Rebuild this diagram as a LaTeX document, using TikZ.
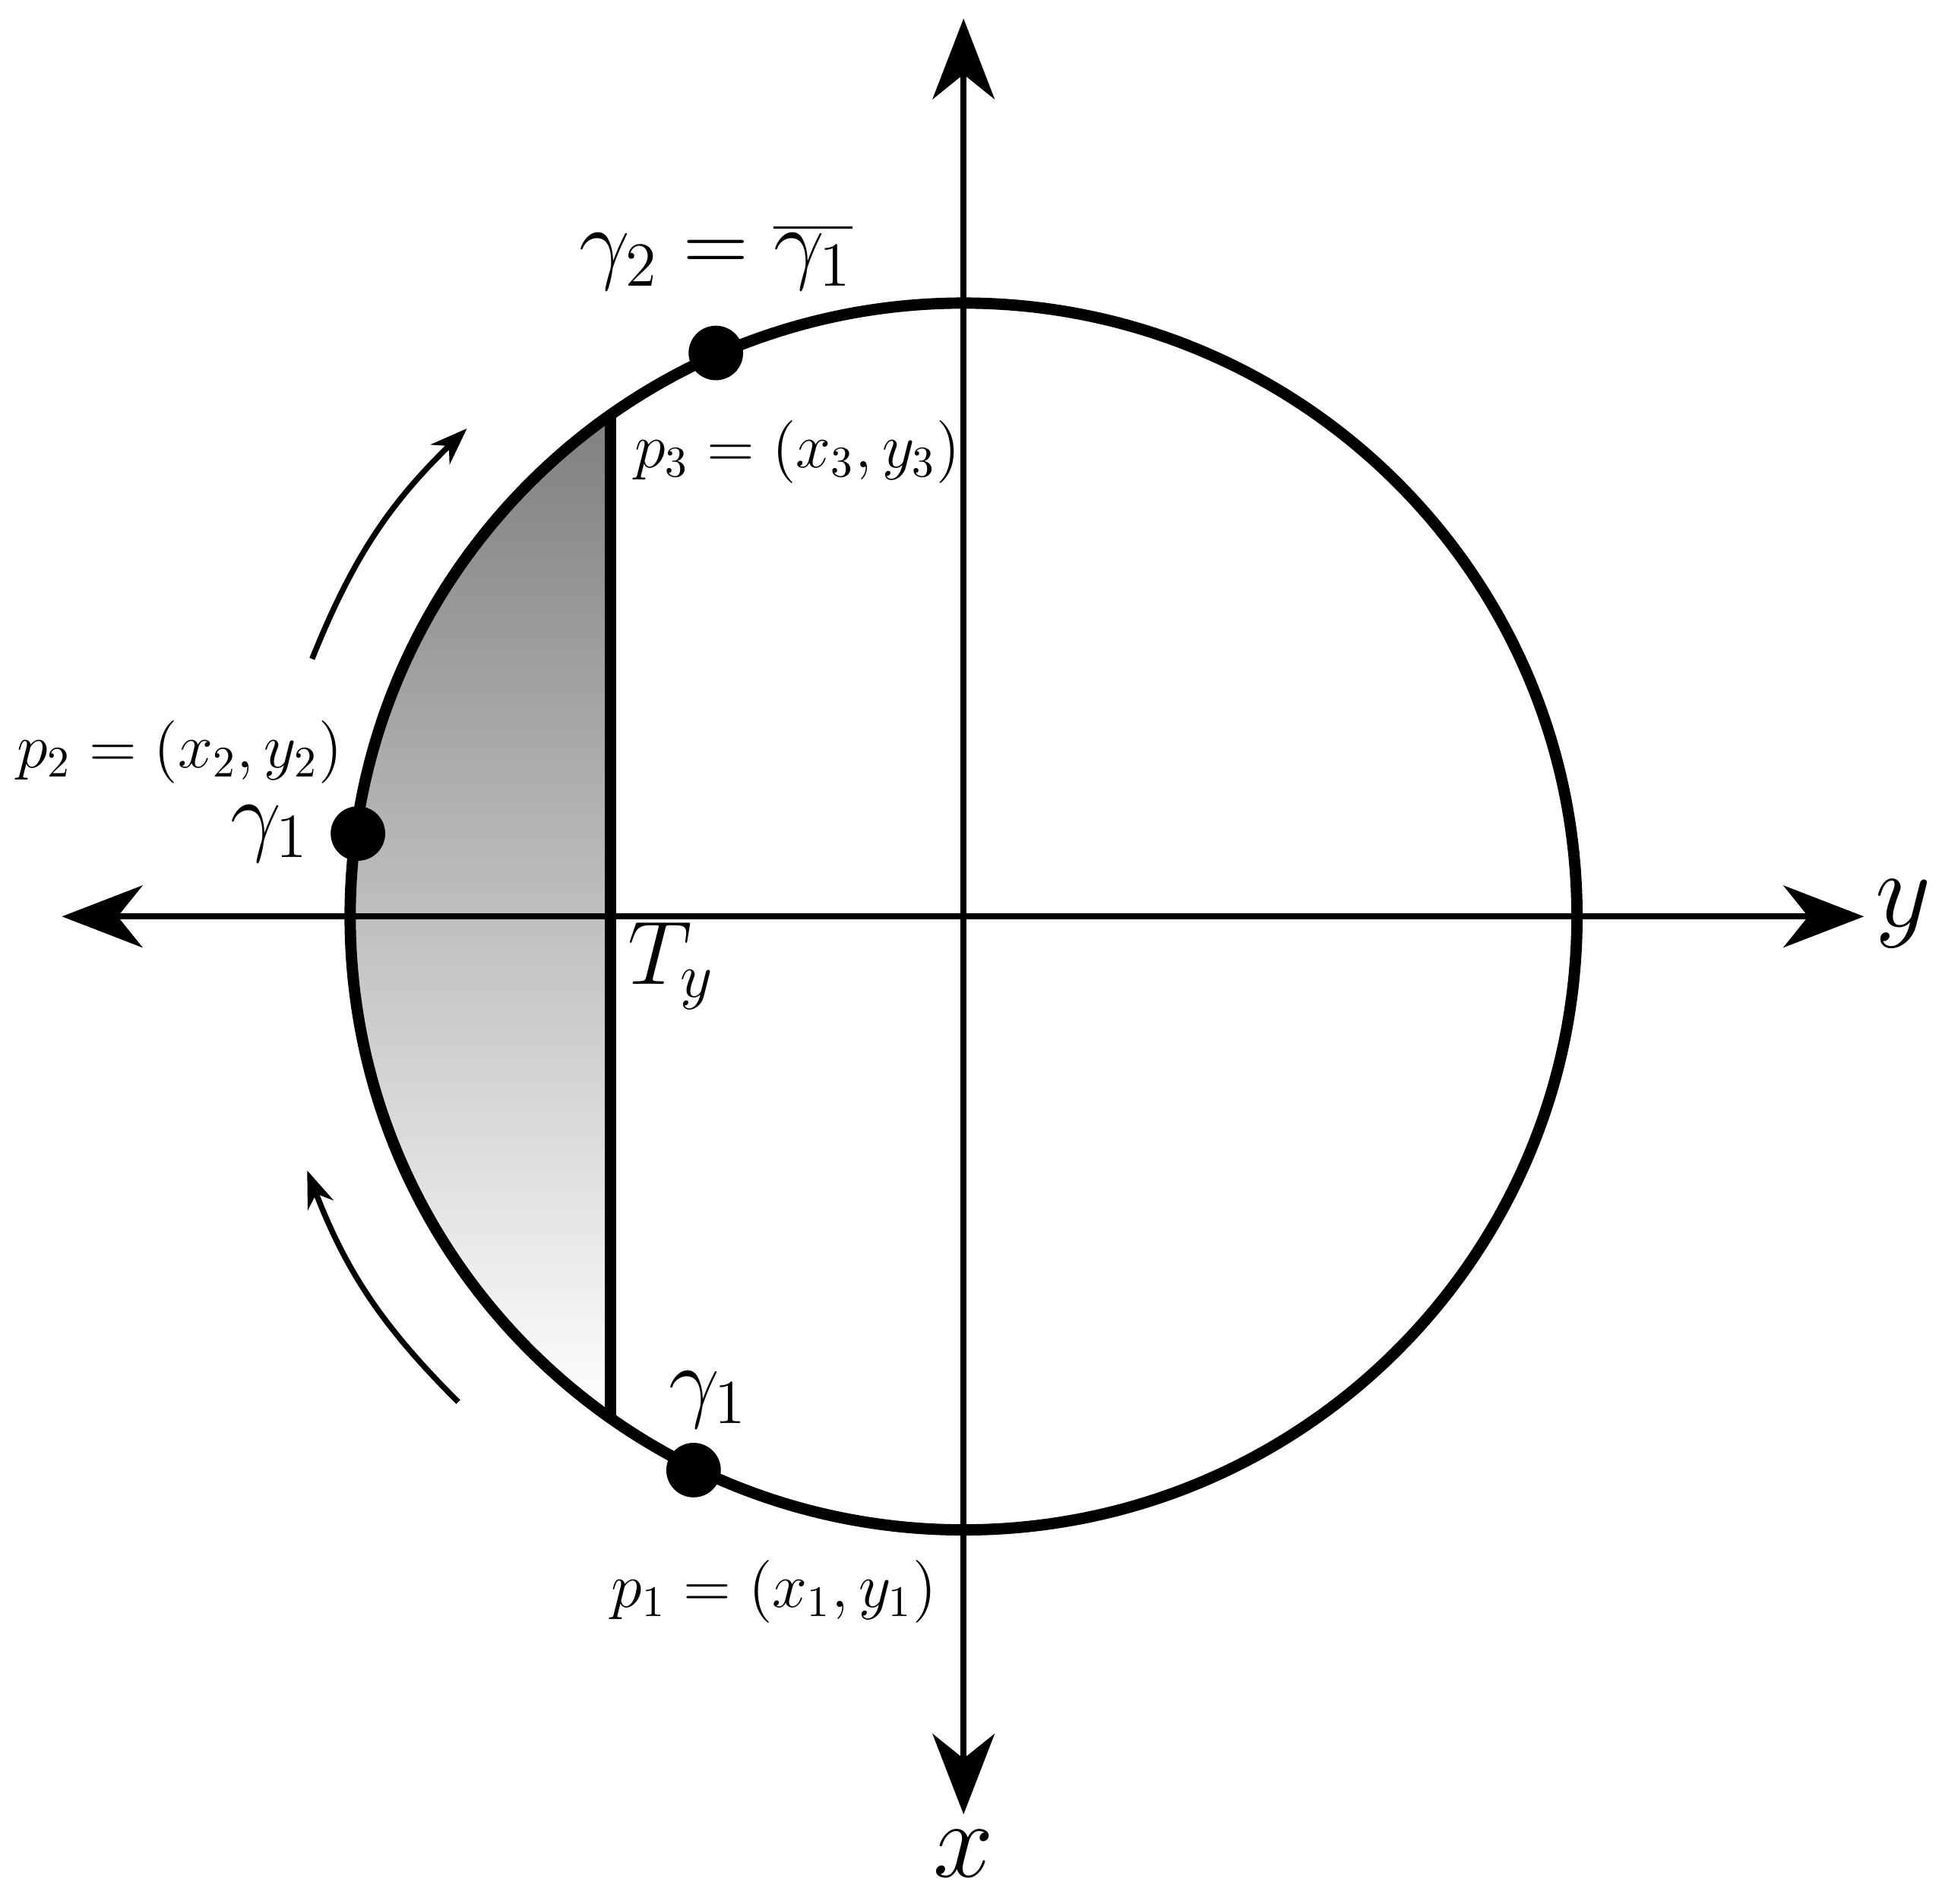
\documentclass[tikz,border=0pt]{standalone}
\usetikzlibrary{arrows.meta}
\definecolor{shade}{RGB}{247,214,226}
\begin{document}
\begin{tikzpicture}[x=0.01cm,y=-0.01cm,
  axis/.style={line width=1.4pt,{Stealth[length=0.65cm,width=0.5cm,inset=0.2cm]}-{Stealth[length=0.65cm,width=0.5cm,inset=0.2cm]}},
  thick line/.style={line width=2.6pt},
  dot/.style={circle,fill=black,inner sep=0pt,minimum size=0.44cm},
  lbl/.style={font=\fontsize{14}{16}\selectfont},
  big/.style={font=\fontsize{20}{22}\selectfont},
  move/.style={line width=1.3pt,-{Stealth[length=0.3cm,width=0.22cm]}}]
\useasboundingbox (0,0) rectangle (1568,1537);
\coordinate (c) at (778,740);
\fill[shade] (c) ++(125.2:4.95cm) arc[start angle=125.2,end angle=234.8,radius=4.95cm] -- cycle;
\draw[axis] (50,740) -- (1505,740);
\draw[axis] (778,1465) -- (778,15);
\draw[thick line] (c) circle[radius=4.95cm];
\coordinate (ct) at (493,336);
\coordinate (cb) at (493,1144);
\draw[thick line] (ct) -- (cb);
\node[dot] (g2) at (578,285) {};
\node[dot] (g1a) at (289,673) {};
\node[dot] (g1b) at (560,1187) {};
\coordinate (a1s) at (252,532); \coordinate (a1e) at (377,346);
\coordinate (a2s) at (370,1132); \coordinate (a2e) at (248,945);
\draw[move] (a1s) to[bend left=12] (a1e);
\draw[move] (a2s) to[bend left=12] (a2e);
\node[big] (lg2) at (578,208) {$\gamma_2=\overline{\gamma_1}$};
\node[lbl,anchor=west] (lp3) at (500,365) {$p_3=(x_3,y_3)$};
\node[lbl] (lp2) at (145,607) {$p_2=(x_2,y_2)$};
\node[big] (lg1a) at (218,673) {$\gamma_1$};
\node[big] (lty) at (542,780) {$T_y$};
\node[big] (lg1b) at (572,1130) {$\gamma_1$};
\node[lbl] (lp1) at (625,1285) {$p_1=(x_1,y_1)$};
\node[font=\fontsize{26}{28}\selectfont] (ly) at (1537,738) {$y$};
\node[font=\fontsize{26}{28}\selectfont] (lx) at (778,1497) {$x$};
\end{tikzpicture}
\end{document}
